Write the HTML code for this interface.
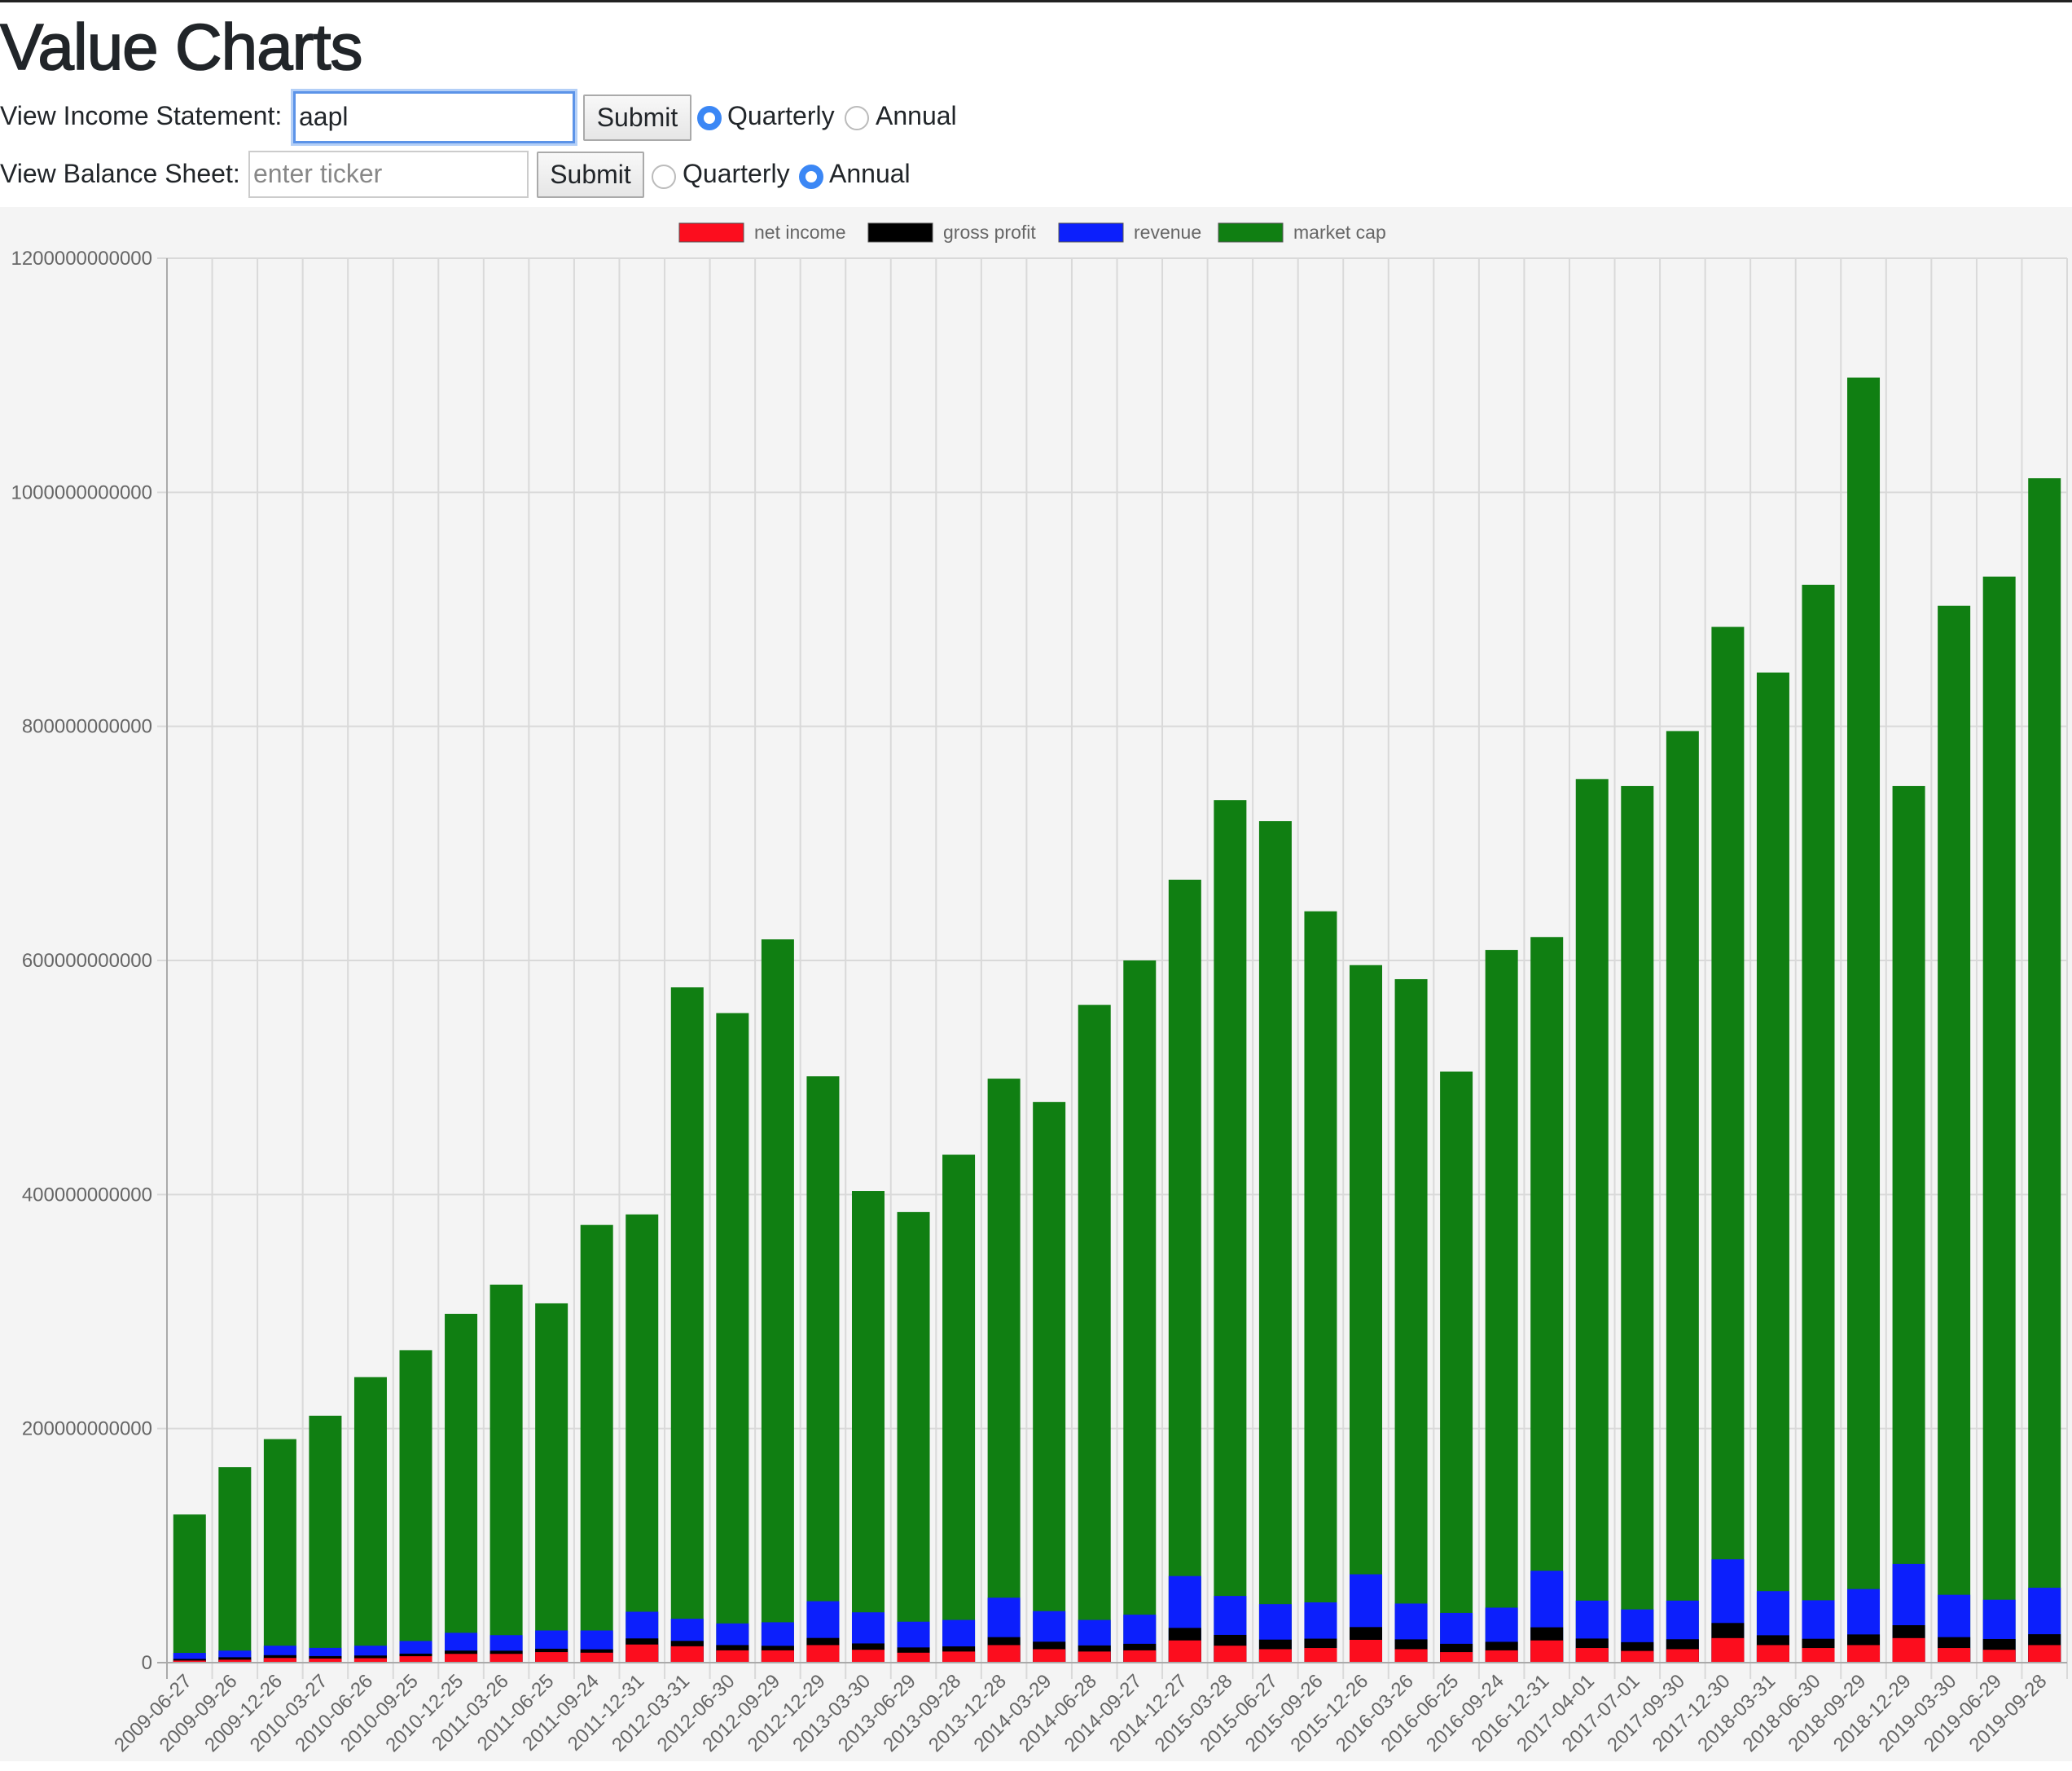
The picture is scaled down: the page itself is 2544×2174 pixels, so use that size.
<!DOCTYPE html>
<html><head><meta charset="utf-8"><style>
body{margin:0;width:2544px;height:2174px;background:#fff;font-family:"Liberation Sans",sans-serif;color:#212529;position:relative;overflow:hidden}
.abs{position:absolute}
.lbl{font-size:32px;white-space:nowrap}
.inp{border:2px solid #ccc;background:#fff;font-size:32px;box-sizing:border-box;padding:0 4px;line-height:52px}
.btn{border:2px solid #aaa;background:linear-gradient(#f8f8f8,#e6e6e6);font-size:32px;box-sizing:border-box;text-align:center;line-height:52px;border-radius:2px}
.radio{width:30px;height:30px;border-radius:50%;box-sizing:border-box;border:2px solid #bbb;background:#fff}
.radio.on{border:8px solid #3b87f5}
</style></head><body>
<div class="abs" style="left:0;top:0;width:2544px;height:3px;background:#222"></div>
<div class="abs" style="left:0;top:12px;font-size:80px;font-weight:normal;-webkit-text-stroke:1.6px #212529;letter-spacing:-1px">Value Charts</div>

<div class="abs lbl" style="left:0;top:124px">View Income Statement:</div>
<div class="abs inp" style="left:360px;top:112px;width:346px;height:64px;border:3px solid #5b93e8;box-shadow:0 0 0 3px #b3cff7;line-height:56px">aapl</div>
<div class="abs btn" style="left:716px;top:116px;width:133px;height:57px">Submit</div>
<div class="abs radio on" style="left:856px;top:130px"></div>
<div class="abs lbl" style="left:893px;top:124px">Quarterly</div>
<div class="abs radio" style="left:1037px;top:130px"></div>
<div class="abs lbl" style="left:1075px;top:124px">Annual</div>

<div class="abs lbl" style="left:0;top:195px">View Balance Sheet:</div>
<div class="abs inp" style="left:305px;top:185px;width:344px;height:58px;color:#888">enter ticker</div>
<div class="abs btn" style="left:659px;top:186px;width:132px;height:57px">Submit</div>
<div class="abs radio" style="left:800px;top:202px"></div>
<div class="abs lbl" style="left:838px;top:195px">Quarterly</div>
<div class="abs radio on" style="left:981px;top:202px"></div>
<div class="abs lbl" style="left:1018px;top:195px">Annual</div>

<svg class="abs" style="left:0;top:254px" width="2544" height="1908" id="chart" font-family="Liberation Sans, sans-serif"></svg>
<script>
const categories=["2009-06-27","2009-09-26","2009-12-26","2010-03-27","2010-06-26","2010-09-25","2010-12-25","2011-03-26","2011-06-25","2011-09-24","2011-12-31","2012-03-31","2012-06-30","2012-09-29","2012-12-29","2013-03-30","2013-06-29","2013-09-28","2013-12-28","2014-03-29","2014-06-28","2014-09-27","2014-12-27","2015-03-28","2015-06-27","2015-09-26","2015-12-26","2016-03-26","2016-06-25","2016-09-24","2016-12-31","2017-04-01","2017-07-01","2017-09-30","2017-12-30","2018-03-31","2018-06-30","2018-09-29","2018-12-29","2019-03-30","2019-06-29","2019-09-28"];
const marketCap=[126.6,167,191,211,244,267,298,323,307,374,383,577,555,618,501,403,385,434,499,479,562,600,669,737,719,642,596,584,505,609,620,755,749,796,885,846,921,1098,749,903,928,1012];
const revenue=[8.3,10.3,14.5,12.6,14.5,18.5,25.5,23.5,27.5,27.5,43.5,37.5,33.5,34.5,52.5,43,35,36.5,55.5,44,36.5,41,74,57,50,51.5,75.5,50.5,42.5,47,78.5,53,45.5,53,88.3,61.1,53.3,62.9,84.3,58,53.8,64];
const grossProfit=[3.2,4.6,6.4,5.6,6.1,7.7,10.3,10.2,11.9,11.4,20.7,18.6,15,14.4,21.1,16.4,13,13.9,21.8,17.9,14.7,16.1,29.7,23.7,19.7,20.5,30.4,19.9,16.1,17.8,30.2,20.6,17.5,20,33.9,23.4,20.4,24.1,32,21.8,20.2,24.3];
const netIncome=[1.8,2.5,4.0,3.5,3.8,5.5,7.5,7.5,9.0,8.5,15.5,14,10.5,10.5,15,11,8.5,9.5,15,11.5,9.5,10.5,19,14.5,11.5,12.5,19.5,11.5,9,10.5,19,12.5,10,11.5,21,15,12.5,15,21,12.5,11,15];
const yTicks=[0,200,400,600,800,1000,1200];
const yTickLabels=["0","200000000000","400000000000","600000000000","800000000000","1000000000000","1200000000000"];
const seriesNames=["net income","gross profit","revenue","market cap"];
const colors=["#fc0d1e","#000000","#0c1ffc","#107f12"];

const svg=document.getElementById('chart');
const NS="http://www.w3.org/2000/svg";
const L=205,R=2538,T=63,B=1787;
const yMax=1200;
function y(v){return B-(v/yMax)*(B-T);}
const bw=(R-L)/categories.length;
function xc(i){return L+bw*(i+0.5);}
function mk(tag,attrs,parent){const e=document.createElementNS(NS,tag);for(const k in attrs)e.setAttribute(k,attrs[k]);(parent||svg).appendChild(e);return e;}
mk('rect',{x:0,y:0,width:2544,height:1908,fill:'#f4f4f4'});
yTicks.forEach((t,i)=>{
  const g=mk('line',{x1:L-12,x2:R,y1:y(t),y2:y(t),stroke:i===0?'#aaa':'#d9d9d9','stroke-width':2});
  
  
  const tx=mk('text',{x:187,y:y(t)+8,'text-anchor':'end','font-size':24,fill:'#666'});
  tx.textContent=yTickLabels[i];
  
  
});
for(let i=0;i<=categories.length;i++){
  const xx=L+bw*i;
  const g=mk('line',{x1:xx,x2:xx,y1:T,y2:B+20,stroke:i===0?'#aaa':'#d9d9d9','stroke-width':2});
  
  
}
const series=[netIncome,grossProfit,revenue,marketCap];
const barW=bw*0.72;
for(let s=3;s>=0;s--){
  series[s].forEach((v,i)=>{
    const r=mk('rect',{x:xc(i)-barW/2,y:y(v),width:barW,height:B-y(v),fill:colors[s]});
    
    
  });
}
mk('line',{x1:L,x2:R,y1:B,y2:B,stroke:'#aaa','stroke-width':2});
mk('line',{x1:L,x2:L,y1:T,y2:B+20,stroke:'#aaa','stroke-width':2});
categories.forEach((c,i)=>{
  const cx=xc(i)+4, cy=B+24;
  const t=mk('text',{x:cx,y:cy,'text-anchor':'end','font-size':24,fill:'#666',transform:`rotate(-45 ${cx} ${cy})`});
  t.textContent=c;
  
  
});
const legX=[834,1066,1300,1496];
seriesNames.forEach((n,i)=>{
  const r=mk('rect',{x:legX[i],y:20,width:79,height:23,fill:colors[i],stroke:'#555','stroke-width':1});
  
  
  const t=mk('text',{x:legX[i]+92,y:39,'font-size':23,fill:'#666'});
  t.textContent=n;
  
  
});
</script>
</body></html>
